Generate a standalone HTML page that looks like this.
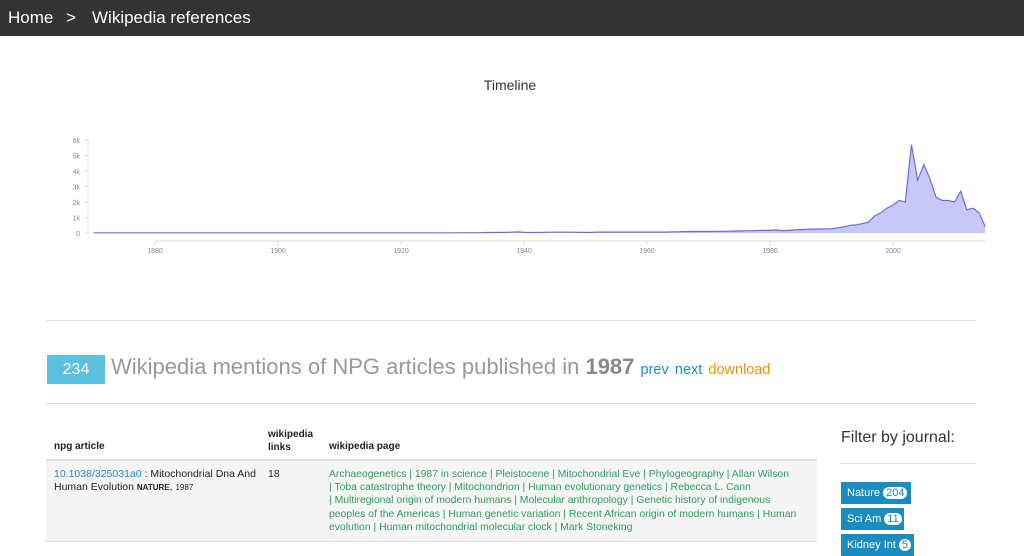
<!DOCTYPE html>
<html><head><meta charset="utf-8"><style>
body{margin:0;width:1024px;height:550px;overflow:hidden;background:#fff;font-family:"Liberation Sans",sans-serif;position:relative}
.abs{position:absolute}
#hdr{left:0;top:0;width:1024px;height:36px;background:#333;color:#fff;font-size:17px;line-height:36px}
.hr{height:1px;background:#ddd}
.g{color:#2aa05a}
.b{color:#1a8cc8}
</style></head><body>
<div id="hdr" class="abs">
<span class="abs" style="left:8px">Home</span>
<span class="abs" style="left:66px">&gt;</span>
<span class="abs" style="left:92px">Wikipedia references</span>
</div>
<div class="abs" style="left:0;width:1020px;top:77px;text-align:center;font-size:14px;color:#333">Timeline</div>
<svg class="abs" style="left:0;top:120px" width="1024" height="150" id="chart"></svg>
<div class="abs hr" style="left:46px;top:320px;width:930px"></div>
<div class="abs" style="left:47px;top:355px;width:58px;height:29px;background:#5bc0de;color:#fff;font-size:16px;line-height:29px;text-align:center">234</div>
<div class="abs" style="left:111px;top:354px;font-size:22px;color:#999;white-space:nowrap">Wikipedia mentions of NPG articles published in <b style="color:#888">1987</b> <span class="b" style="font-size:14.5px">prev</span> <span class="b" style="font-size:14.5px">next</span> <span style="font-size:14.5px;color:#f0900a">download</span></div>
<div class="abs hr" style="left:46px;top:403px;width:930px"></div>
<div class="abs" style="left:46px;top:425px;width:771px;height:116px;font-size:10px;color:#222">
<div class="abs" style="left:8px;top:16px;font-weight:bold">npg article</div>
<div class="abs" style="left:222px;top:3px;font-weight:bold;line-height:13px">wikipedia<br>links</div>
<div class="abs" style="left:283px;top:16px;font-weight:bold">wikipedia page</div>
<div class="abs" style="left:0;top:34px;width:771px;height:2px;background:#ddd"></div>
<div class="abs" style="left:0;top:36px;width:771px;height:80px;background:#f5f5f5">
<div class="abs" style="left:8px;top:7px;width:210px;line-height:13px;font-size:10.5px"><span class="b">10.1038/325031a0</span> : Mitochondrial Dna And Human Evolution <b style="font-size:8px">NATURE</b>, <span style="font-size:8px">1987</span></div>
<div class="abs" style="left:222px;top:7px;font-size:10.5px">18</div>
<div class="abs g" style="left:283px;top:7px;width:480px;line-height:13.2px;font-size:10.4px;white-space:nowrap">Archaeogenetics | 1987 in science | Pleistocene | Mitochondrial Eve | Phylogeography | Allan Wilson<br>| Toba catastrophe theory | Mitochondrion | Human evolutionary genetics | Rebecca L. Cann<br>| Multiregional origin of modern humans | Molecular anthropology | Genetic history of indigenous<br>peoples of the Americas | Human genetic variation | Recent African origin of modern humans | Human<br>evolution | Human mitochondrial molecular clock | Mark Stoneking</div>
</div>
<div class="abs" style="left:0;top:116px;width:771px;height:1px;background:#ddd"></div>
</div>
<div class="abs" style="left:841px;top:429px;font-size:16px;color:#333">Filter by journal:</div>
<div class="abs hr" style="left:841px;top:463px;width:135px"></div>
<div class="abs" style="left:841px;top:482px;width:70px;height:22px;background:#1a8cc0;color:#fff;font-size:11px;line-height:22px;padding-left:6px;box-sizing:border-box">Nature <span style="background:#fff;color:#1a8cc0;border-radius:8px;padding:0 3px">204</span></div>
<div class="abs" style="left:841px;top:508px;width:63px;height:22px;background:#1a8cc0;color:#fff;font-size:11px;line-height:22px;padding-left:6px;box-sizing:border-box">Sci Am <span style="background:#fff;color:#1a8cc0;border-radius:8px;padding:0 3px">11</span></div>
<div class="abs" style="left:841px;top:534px;width:73px;height:22px;background:#1a8cc0;color:#fff;font-size:11px;line-height:22px;padding-left:6px;box-sizing:border-box">Kidney Int <span style="background:#fff;color:#1a8cc0;border-radius:8px;padding:0 3px">5</span></div>
<script>
const startYear=1870;
const values=[10,10,10,10,10,10,10,10,10,10,10,10,10,10,10,10,10,10,10,10,10,10,10,10,10,10,10,10,10,10,
10,10,10,10,10,10,10,10,10,10,10,10,10,10,10,10,10,10,10,10,15,15,15,15,15,15,15,15,15,15,
20,20,20,20,30,30,40,40,50,70,40,30,30,40,50,50,50,50,50,40,40,40,60,60,60,60,60,60,60,60,
60,60,60,60,70,80,90,90,100,100,100,100,110,110,120,130,140,150,160,170,170,200,150,170,200,220,230,250,260,270,
280,330,400,500,530,600,700,1100,1300,1600,1800,2100,2000,5700,3400,4400,3500,2300,2100,2100,2000,2700,1500,1600,1300,400];
const yTicks=[0,1000,2000,3000,4000,5000,6000];
const yTickLabels=["0","1k","2k","3k","4k","5k","6k"];
const xTicks=[1880,1900,1920,1940,1960,1980,2000];
const svg=document.getElementById('chart');
const ns='http://www.w3.org/2000/svg';
const x=y=>93.5+(y-1870)*6.15;
const yS=v=>113-v*15.5/1000;
function mk(t,a){const e=document.createElementNS(ns,t);for(const k in a)e.setAttribute(k,a[k]);svg.appendChild(e);return e;}
let ax=mk('line',{x1:88,x2:88,y1:yS(6000),y2:113,stroke:'#ddd'});


yTicks.forEach((v,i)=>{const t=mk('text',{x:80,y:yS(v)+3,'text-anchor':'end','font-size':7,fill:'#888','font-family':'Liberation Sans'});t.textContent=yTickLabels[i];


mk('line',{x1:85,x2:88,y1:yS(v),y2:yS(v),stroke:'#ddd'});});
let xa=mk('line',{x1:x(1880),x2:x(2015),y1:121,y2:121,stroke:'#ddd'});


xTicks.forEach(v=>{mk('line',{x1:x(v),x2:x(v),y1:121,y2:125,stroke:'#ddd'});const t=mk('text',{x:x(v),y:133,'text-anchor':'middle','font-size':7,fill:'#888','font-family':'Liberation Sans'});t.textContent=v;

});
let d='';values.forEach((v,i)=>{d+=(i?'L':'M')+x(startYear+i).toFixed(1)+','+yS(v).toFixed(1);});
const area=mk('path',{d:d+'L'+x(startYear+values.length-1)+',113L'+x(startYear)+',113Z',fill:'#c8c8f8',stroke:'none'});


const line=mk('path',{d:d,fill:'none',stroke:'#6a6ae8','stroke-width':1.2});


</script>
</body></html>
